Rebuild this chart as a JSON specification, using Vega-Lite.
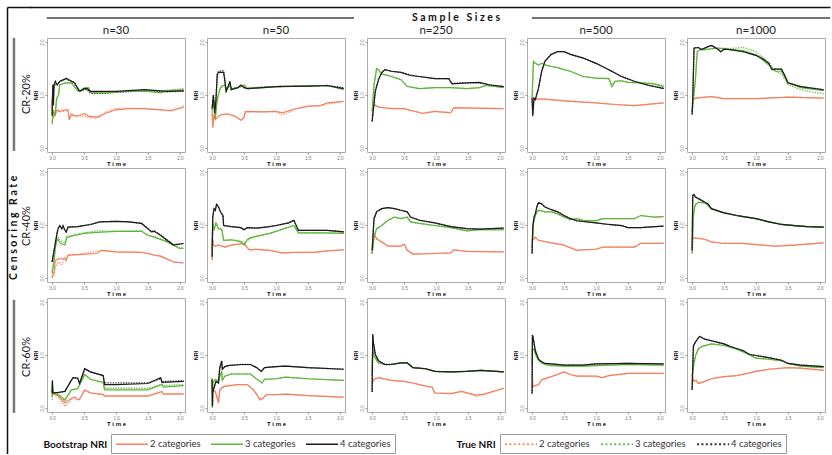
{
"$schema": "https://vega.github.io/schema/vega-lite/v6.json",
"padding": {"left": 7, "top": 7, "right": 0, "bottom": 0},
"background": "white",
"spacing": 0,
"resolve": {"scale": {"x": "independent", "y": "independent"}},
"config": {
  "view": {"stroke": "#ababab", "strokeWidth": 1},
  "font": "Liberation Sans",
  "legend": {"direction": "horizontal", "symbolType": "M-3.2,0H3.2", "symbolSize": 100, "symbolOffset": 11, "padding": 4, "strokeColor": "#9a9a9a", "fillColor": "white", "labelFont": "Lato", "labelFontSize": 9.5, "labelColor": "#333", "labelOffset": 12, "columnPadding": 7}
},
"data": {"values": [
{"r":20,"n":30,"k":2,"t":0,"b":0.94,"e":0.9},{"r":20,"n":30,"k":2,"t":0.01,"b":0.57,"e":0.6},{"r":20,"n":30,"k":2,"t":0.05,"b":0.63,"e":0.65},{"r":20,"n":30,"k":2,"t":0.08,"b":0.72,"e":0.7},{"r":20,"n":30,"k":2,"t":0.12,"b":0.69,"e":0.68},{"r":20,"n":30,"k":2,"t":0.2,"b":0.72,"e":0.7},{"r":20,"n":30,"k":2,"t":0.25,"b":0.72,"e":0.7},{"r":20,"n":30,"k":2,"t":0.27,"b":0.53,"e":0.55},{"r":20,"n":30,"k":2,"t":0.3,"b":0.64,"e":0.62},{"r":20,"n":30,"k":2,"t":0.37,"b":0.6,"e":0.6},{"r":20,"n":30,"k":2,"t":0.47,"b":0.63,"e":0.6},{"r":20,"n":30,"k":2,"t":0.51,"b":0.65,"e":0.6},{"r":20,"n":30,"k":2,"t":0.57,"b":0.6,"e":0.57},{"r":20,"n":30,"k":2,"t":0.7,"b":0.58,"e":0.56},{"r":20,"n":30,"k":2,"t":0.85,"b":0.66,"e":0.68},{"r":20,"n":30,"k":2,"t":1.0,"b":0.72,"e":0.74},{"r":20,"n":30,"k":2,"t":1.2,"b":0.74,"e":0.75},{"r":20,"n":30,"k":2,"t":1.45,"b":0.74,"e":0.74},{"r":20,"n":30,"k":2,"t":1.7,"b":0.72,"e":0.72},{"r":20,"n":30,"k":2,"t":1.85,"b":0.7,"e":0.71},{"r":20,"n":30,"k":2,"t":1.98,"b":0.74,"e":0.75},{"r":20,"n":30,"k":2,"t":2.06,"b":0.77,"e":0.8},
{"r":20,"n":30,"k":3,"t":0,"b":0.44,"e":0.5},{"r":20,"n":30,"k":3,"t":0.02,"b":0.69,"e":0.7},{"r":20,"n":30,"k":3,"t":0.05,"b":0.63,"e":0.7},{"r":20,"n":30,"k":3,"t":0.07,"b":0.94,"e":0.9},{"r":20,"n":30,"k":3,"t":0.1,"b":1.0,"e":1.0},{"r":20,"n":30,"k":3,"t":0.12,"b":1.19,"e":1.2},{"r":20,"n":30,"k":3,"t":0.2,"b":1.23,"e":1.22},{"r":20,"n":30,"k":3,"t":0.3,"b":1.23,"e":1.23},{"r":20,"n":30,"k":3,"t":0.4,"b":1.08,"e":1.1},{"r":20,"n":30,"k":3,"t":0.45,"b":1.08,"e":1.07},{"r":20,"n":30,"k":3,"t":0.51,"b":1.14,"e":1.12},{"r":20,"n":30,"k":3,"t":0.57,"b":1.14,"e":1.12},{"r":20,"n":30,"k":3,"t":0.6,"b":1.06,"e":1.04},{"r":20,"n":30,"k":3,"t":0.7,"b":1.04,"e":1.03},{"r":20,"n":30,"k":3,"t":1.0,"b":1.05,"e":1.06},{"r":20,"n":30,"k":3,"t":1.2,"b":1.08,"e":1.07},{"r":20,"n":30,"k":3,"t":1.5,"b":1.07,"e":1.08},{"r":20,"n":30,"k":3,"t":1.7,"b":1.04,"e":1.08},{"r":20,"n":30,"k":3,"t":1.8,"b":1.08,"e":1.09},{"r":20,"n":30,"k":3,"t":2.06,"b":1.1,"e":1.12},
{"r":20,"n":30,"k":4,"t":0,"b":0.6,"e":0.65},{"r":20,"n":30,"k":4,"t":0.01,"b":1.2,"e":1.1},{"r":20,"n":30,"k":4,"t":0.02,"b":0.8,"e":0.85},{"r":20,"n":30,"k":4,"t":0.03,"b":1.19,"e":1.15},{"r":20,"n":30,"k":4,"t":0.05,"b":1.26,"e":1.2},{"r":20,"n":30,"k":4,"t":0.08,"b":1.19,"e":1.2},{"r":20,"n":30,"k":4,"t":0.12,"b":1.26,"e":1.25},{"r":20,"n":30,"k":4,"t":0.2,"b":1.3,"e":1.3},{"r":20,"n":30,"k":4,"t":0.22,"b":1.32,"e":1.3},{"r":20,"n":30,"k":4,"t":0.35,"b":1.23,"e":1.24},{"r":20,"n":30,"k":4,"t":0.43,"b":1.07,"e":1.07},{"r":20,"n":30,"k":4,"t":0.5,"b":1.12,"e":1.1},{"r":20,"n":30,"k":4,"t":0.55,"b":1.12,"e":1.1},{"r":20,"n":30,"k":4,"t":0.6,"b":1.07,"e":1.03},{"r":20,"n":30,"k":4,"t":0.8,"b":1.07,"e":1.03},{"r":20,"n":30,"k":4,"t":1.0,"b":1.07,"e":1.05},{"r":20,"n":30,"k":4,"t":1.45,"b":1.1,"e":1.08},{"r":20,"n":30,"k":4,"t":1.8,"b":1.07,"e":1.06},{"r":20,"n":30,"k":4,"t":2.06,"b":1.08,"e":1.07},
{"r":20,"n":50,"k":2,"t":0,"b":0.69,"e":0.7},{"r":20,"n":50,"k":2,"t":0.01,"b":0.38,"e":0.45},{"r":20,"n":50,"k":2,"t":0.03,"b":0.63,"e":0.6},{"r":20,"n":50,"k":2,"t":0.05,"b":0.53,"e":0.55},{"r":20,"n":50,"k":2,"t":0.1,"b":0.6,"e":0.6},{"r":20,"n":50,"k":2,"t":0.15,"b":0.63,"e":0.63},{"r":20,"n":50,"k":2,"t":0.25,"b":0.64,"e":0.64},{"r":20,"n":50,"k":2,"t":0.35,"b":0.6,"e":0.6},{"r":20,"n":50,"k":2,"t":0.45,"b":0.52,"e":0.53},{"r":20,"n":50,"k":2,"t":0.5,"b":0.57,"e":0.57},{"r":20,"n":50,"k":2,"t":0.52,"b":0.69,"e":0.68},{"r":20,"n":50,"k":2,"t":0.8,"b":0.68,"e":0.68},{"r":20,"n":50,"k":2,"t":1.0,"b":0.69,"e":0.69},{"r":20,"n":50,"k":2,"t":1.1,"b":0.66,"e":0.62},{"r":20,"n":50,"k":2,"t":1.3,"b":0.74,"e":0.73},{"r":20,"n":50,"k":2,"t":1.5,"b":0.79,"e":0.78},{"r":20,"n":50,"k":2,"t":1.7,"b":0.8,"e":0.8},{"r":20,"n":50,"k":2,"t":1.8,"b":0.85,"e":0.83},{"r":20,"n":50,"k":2,"t":2.06,"b":0.88,"e":0.88},
{"r":20,"n":50,"k":3,"t":0,"b":0.7,"e":0.72},{"r":20,"n":50,"k":3,"t":0.03,"b":0.9,"e":0.9},{"r":20,"n":50,"k":3,"t":0.05,"b":0.55,"e":0.6},{"r":20,"n":50,"k":3,"t":0.08,"b":0.9,"e":0.95},{"r":20,"n":50,"k":3,"t":0.12,"b":1.1,"e":1.12},{"r":20,"n":50,"k":3,"t":0.15,"b":1.16,"e":1.17},{"r":20,"n":50,"k":3,"t":0.2,"b":1.19,"e":1.2},{"r":20,"n":50,"k":3,"t":0.22,"b":1.07,"e":1.1},{"r":20,"n":50,"k":3,"t":0.27,"b":1.19,"e":1.18},{"r":20,"n":50,"k":3,"t":0.3,"b":1.1,"e":1.12},{"r":20,"n":50,"k":3,"t":0.35,"b":1.12,"e":1.12},{"r":20,"n":50,"k":3,"t":0.45,"b":1.16,"e":1.15},{"r":20,"n":50,"k":3,"t":0.5,"b":1.19,"e":1.18},{"r":20,"n":50,"k":3,"t":0.55,"b":1.12,"e":1.12},{"r":20,"n":50,"k":3,"t":0.8,"b":1.14,"e":1.15},{"r":20,"n":50,"k":3,"t":1.0,"b":1.16,"e":1.16},{"r":20,"n":50,"k":3,"t":1.5,"b":1.17,"e":1.17},{"r":20,"n":50,"k":3,"t":1.8,"b":1.18,"e":1.18},{"r":20,"n":50,"k":3,"t":2.06,"b":1.1,"e":1.12},
{"r":20,"n":50,"k":4,"t":0,"b":0.75,"e":0.75},{"r":20,"n":50,"k":4,"t":0.02,"b":1.0,"e":1.0},{"r":20,"n":50,"k":4,"t":0.04,"b":0.65,"e":0.7},{"r":20,"n":50,"k":4,"t":0.06,"b":0.9,"e":0.9},{"r":20,"n":50,"k":4,"t":0.08,"b":1.38,"e":1.4},{"r":20,"n":50,"k":4,"t":0.1,"b":1.43,"e":1.45},{"r":20,"n":50,"k":4,"t":0.18,"b":1.43,"e":1.46},{"r":20,"n":50,"k":4,"t":0.2,"b":1.26,"e":1.3},{"r":20,"n":50,"k":4,"t":0.22,"b":1.07,"e":1.1},{"r":20,"n":50,"k":4,"t":0.25,"b":1.16,"e":1.15},{"r":20,"n":50,"k":4,"t":0.28,"b":1.26,"e":1.22},{"r":20,"n":50,"k":4,"t":0.3,"b":1.1,"e":1.12},{"r":20,"n":50,"k":4,"t":0.4,"b":1.14,"e":1.14},{"r":20,"n":50,"k":4,"t":0.45,"b":1.19,"e":1.18},{"r":20,"n":50,"k":4,"t":0.5,"b":1.14,"e":1.15},{"r":20,"n":50,"k":4,"t":0.55,"b":1.12,"e":1.13},{"r":20,"n":50,"k":4,"t":0.8,"b":1.14,"e":1.15},{"r":20,"n":50,"k":4,"t":1.0,"b":1.16,"e":1.16},{"r":20,"n":50,"k":4,"t":1.5,"b":1.17,"e":1.17},{"r":20,"n":50,"k":4,"t":1.8,"b":1.18,"e":1.18},{"r":20,"n":50,"k":4,"t":2.06,"b":1.12,"e":1.14},
{"r":20,"n":250,"k":2,"t":0,"b":0.6,"e":0.6},{"r":20,"n":250,"k":2,"t":0.03,"b":0.82,"e":0.82},{"r":20,"n":250,"k":2,"t":0.1,"b":0.77,"e":0.77},{"r":20,"n":250,"k":2,"t":0.3,"b":0.74,"e":0.75},{"r":20,"n":250,"k":2,"t":0.5,"b":0.74,"e":0.74},{"r":20,"n":250,"k":2,"t":0.79,"b":0.65,"e":0.66},{"r":20,"n":250,"k":2,"t":0.98,"b":0.69,"e":0.69},{"r":20,"n":250,"k":2,"t":1.23,"b":0.66,"e":0.67},{"r":20,"n":250,"k":2,"t":1.28,"b":0.76,"e":0.75},{"r":20,"n":250,"k":2,"t":1.6,"b":0.75,"e":0.75},{"r":20,"n":250,"k":2,"t":2.06,"b":0.74,"e":0.74},
{"r":20,"n":250,"k":3,"t":0,"b":0.69,"e":0.7},{"r":20,"n":250,"k":3,"t":0.03,"b":1.19,"e":1.2},{"r":20,"n":250,"k":3,"t":0.07,"b":1.5,"e":1.5},{"r":20,"n":250,"k":3,"t":0.1,"b":1.48,"e":1.47},{"r":20,"n":250,"k":3,"t":0.15,"b":1.4,"e":1.4},{"r":20,"n":250,"k":3,"t":0.3,"b":1.35,"e":1.36},{"r":20,"n":250,"k":3,"t":0.45,"b":1.29,"e":1.3},{"r":20,"n":250,"k":3,"t":0.55,"b":1.16,"e":1.17},{"r":20,"n":250,"k":3,"t":0.74,"b":1.12,"e":1.12},{"r":20,"n":250,"k":3,"t":0.98,"b":1.14,"e":1.14},{"r":20,"n":250,"k":3,"t":1.23,"b":1.14,"e":1.14},{"r":20,"n":250,"k":3,"t":1.48,"b":1.12,"e":1.12},{"r":20,"n":250,"k":3,"t":1.68,"b":1.14,"e":1.14},{"r":20,"n":250,"k":3,"t":1.78,"b":1.18,"e":1.18},{"r":20,"n":250,"k":3,"t":1.95,"b":1.16,"e":1.16},{"r":20,"n":250,"k":3,"t":2.06,"b":1.14,"e":1.14},
{"r":20,"n":250,"k":4,"t":0,"b":0.5,"e":0.5},{"r":20,"n":250,"k":4,"t":0.05,"b":1.07,"e":1.07},{"r":20,"n":250,"k":4,"t":0.1,"b":1.29,"e":1.3},{"r":20,"n":250,"k":4,"t":0.15,"b":1.42,"e":1.43},{"r":20,"n":250,"k":4,"t":0.2,"b":1.48,"e":1.48},{"r":20,"n":250,"k":4,"t":0.3,"b":1.45,"e":1.45},{"r":20,"n":250,"k":4,"t":0.45,"b":1.43,"e":1.43},{"r":20,"n":250,"k":4,"t":0.6,"b":1.37,"e":1.38},{"r":20,"n":250,"k":4,"t":0.74,"b":1.35,"e":1.35},{"r":20,"n":250,"k":4,"t":0.98,"b":1.31,"e":1.31},{"r":20,"n":250,"k":4,"t":1.2,"b":1.31,"e":1.31},{"r":20,"n":250,"k":4,"t":1.25,"b":1.21,"e":1.22},{"r":20,"n":250,"k":4,"t":1.48,"b":1.23,"e":1.23},{"r":20,"n":250,"k":4,"t":1.68,"b":1.24,"e":1.23},{"r":20,"n":250,"k":4,"t":1.85,"b":1.19,"e":1.19},{"r":20,"n":250,"k":4,"t":2.06,"b":1.16,"e":1.16},
{"r":20,"n":500,"k":2,"t":0,"b":0.85,"e":0.85},{"r":20,"n":500,"k":2,"t":0.02,"b":0.94,"e":0.94},{"r":20,"n":500,"k":2,"t":0.05,"b":0.92,"e":0.92},{"r":20,"n":500,"k":2,"t":0.2,"b":0.92,"e":0.92},{"r":20,"n":500,"k":2,"t":0.5,"b":0.89,"e":0.89},{"r":20,"n":500,"k":2,"t":1.0,"b":0.85,"e":0.85},{"r":20,"n":500,"k":2,"t":1.3,"b":0.82,"e":0.82},{"r":20,"n":500,"k":2,"t":1.6,"b":0.8,"e":0.8},{"r":20,"n":500,"k":2,"t":2.06,"b":0.85,"e":0.85},
{"r":20,"n":500,"k":3,"t":0,"b":0.94,"e":0.94},{"r":20,"n":500,"k":3,"t":0.02,"b":1.64,"e":1.62},{"r":20,"n":500,"k":3,"t":0.05,"b":1.6,"e":1.6},{"r":20,"n":500,"k":3,"t":0.1,"b":1.57,"e":1.57},{"r":20,"n":500,"k":3,"t":0.15,"b":1.6,"e":1.6},{"r":20,"n":500,"k":3,"t":0.2,"b":1.57,"e":1.57},{"r":20,"n":500,"k":3,"t":0.3,"b":1.54,"e":1.54},{"r":20,"n":500,"k":3,"t":0.4,"b":1.52,"e":1.52},{"r":20,"n":500,"k":3,"t":0.5,"b":1.48,"e":1.48},{"r":20,"n":500,"k":3,"t":0.6,"b":1.45,"e":1.45},{"r":20,"n":500,"k":3,"t":0.8,"b":1.35,"e":1.35},{"r":20,"n":500,"k":3,"t":1.0,"b":1.32,"e":1.32},{"r":20,"n":500,"k":3,"t":1.2,"b":1.31,"e":1.31},{"r":20,"n":500,"k":3,"t":1.25,"b":1.16,"e":1.2},{"r":20,"n":500,"k":3,"t":1.3,"b":1.26,"e":1.26},{"r":20,"n":500,"k":3,"t":1.4,"b":1.27,"e":1.27},{"r":20,"n":500,"k":3,"t":1.5,"b":1.24,"e":1.24},{"r":20,"n":500,"k":3,"t":1.7,"b":1.23,"e":1.23},{"r":20,"n":500,"k":3,"t":1.9,"b":1.21,"e":1.22},{"r":20,"n":500,"k":3,"t":2.06,"b":1.16,"e":1.18},
{"r":20,"n":500,"k":4,"t":0,"b":0.94,"e":0.94},{"r":20,"n":500,"k":4,"t":0.01,"b":0.6,"e":0.65},{"r":20,"n":500,"k":4,"t":0.03,"b":0.94,"e":0.94},{"r":20,"n":500,"k":4,"t":0.05,"b":0.91,"e":0.91},{"r":20,"n":500,"k":4,"t":0.1,"b":1.13,"e":1.13},{"r":20,"n":500,"k":4,"t":0.15,"b":1.45,"e":1.45},{"r":20,"n":500,"k":4,"t":0.2,"b":1.64,"e":1.64},{"r":20,"n":500,"k":4,"t":0.3,"b":1.77,"e":1.77},{"r":20,"n":500,"k":4,"t":0.4,"b":1.82,"e":1.82},{"r":20,"n":500,"k":4,"t":0.5,"b":1.82,"e":1.82},{"r":20,"n":500,"k":4,"t":0.6,"b":1.77,"e":1.77},{"r":20,"n":500,"k":4,"t":0.8,"b":1.7,"e":1.7},{"r":20,"n":500,"k":4,"t":1.0,"b":1.6,"e":1.6},{"r":20,"n":500,"k":4,"t":1.2,"b":1.48,"e":1.48},{"r":20,"n":500,"k":4,"t":1.4,"b":1.35,"e":1.35},{"r":20,"n":500,"k":4,"t":1.6,"b":1.26,"e":1.26},{"r":20,"n":500,"k":4,"t":1.8,"b":1.19,"e":1.19},{"r":20,"n":500,"k":4,"t":2.06,"b":1.12,"e":1.13},
{"r":20,"n":1000,"k":2,"t":0,"b":0.88,"e":0.88},{"r":20,"n":1000,"k":2,"t":0.05,"b":0.94,"e":0.94},{"r":20,"n":1000,"k":2,"t":0.3,"b":0.97,"e":0.97},{"r":20,"n":1000,"k":2,"t":0.5,"b":0.93,"e":0.93},{"r":20,"n":1000,"k":2,"t":1.0,"b":0.93,"e":0.93},{"r":20,"n":1000,"k":2,"t":1.5,"b":0.96,"e":0.96},{"r":20,"n":1000,"k":2,"t":2.06,"b":0.94,"e":0.94},
{"r":20,"n":1000,"k":3,"t":0,"b":0.69,"e":0.69},{"r":20,"n":1000,"k":3,"t":0.05,"b":1.26,"e":1.26},{"r":20,"n":1000,"k":3,"t":0.08,"b":1.82,"e":1.82},{"r":20,"n":1000,"k":3,"t":0.12,"b":1.86,"e":1.86},{"r":20,"n":1000,"k":3,"t":0.2,"b":1.86,"e":1.86},{"r":20,"n":1000,"k":3,"t":0.4,"b":1.89,"e":1.89},{"r":20,"n":1000,"k":3,"t":0.6,"b":1.86,"e":1.88},{"r":20,"n":1000,"k":3,"t":0.8,"b":1.84,"e":1.9},{"r":20,"n":1000,"k":3,"t":1.0,"b":1.76,"e":1.82},{"r":20,"n":1000,"k":3,"t":1.2,"b":1.57,"e":1.62},{"r":20,"n":1000,"k":3,"t":1.3,"b":1.45,"e":1.45},{"r":20,"n":1000,"k":3,"t":1.4,"b":1.45,"e":1.4},{"r":20,"n":1000,"k":3,"t":1.5,"b":1.23,"e":1.2},{"r":20,"n":1000,"k":3,"t":1.7,"b":1.14,"e":1.1},{"r":20,"n":1000,"k":3,"t":2.06,"b":1.08,"e":1.02},
{"r":20,"n":1000,"k":4,"t":0,"b":0.63,"e":0.63},{"r":20,"n":1000,"k":4,"t":0.01,"b":0.94,"e":0.94},{"r":20,"n":1000,"k":4,"t":0.03,"b":1.89,"e":1.89},{"r":20,"n":1000,"k":4,"t":0.1,"b":1.9,"e":1.9},{"r":20,"n":1000,"k":4,"t":0.15,"b":1.86,"e":1.86},{"r":20,"n":1000,"k":4,"t":0.2,"b":1.89,"e":1.89},{"r":20,"n":1000,"k":4,"t":0.3,"b":1.94,"e":1.94},{"r":20,"n":1000,"k":4,"t":0.4,"b":1.87,"e":1.87},{"r":20,"n":1000,"k":4,"t":0.45,"b":1.82,"e":1.82},{"r":20,"n":1000,"k":4,"t":0.5,"b":1.87,"e":1.87},{"r":20,"n":1000,"k":4,"t":0.6,"b":1.86,"e":1.86},{"r":20,"n":1000,"k":4,"t":0.8,"b":1.82,"e":1.82},{"r":20,"n":1000,"k":4,"t":1.0,"b":1.75,"e":1.75},{"r":20,"n":1000,"k":4,"t":1.1,"b":1.69,"e":1.69},{"r":20,"n":1000,"k":4,"t":1.2,"b":1.6,"e":1.6},{"r":20,"n":1000,"k":4,"t":1.25,"b":1.48,"e":1.48},{"r":20,"n":1000,"k":4,"t":1.3,"b":1.49,"e":1.49},{"r":20,"n":1000,"k":4,"t":1.4,"b":1.49,"e":1.49},{"r":20,"n":1000,"k":4,"t":1.45,"b":1.37,"e":1.37},{"r":20,"n":1000,"k":4,"t":1.5,"b":1.23,"e":1.23},{"r":20,"n":1000,"k":4,"t":1.7,"b":1.16,"e":1.16},{"r":20,"n":1000,"k":4,"t":2.06,"b":1.1,"e":1.1},
{"r":40,"n":30,"k":2,"t":0,"b":0.0,"e":0.0},{"r":40,"n":30,"k":2,"t":0.03,"b":0.11,"e":0.05},{"r":40,"n":30,"k":2,"t":0.05,"b":0.33,"e":0.2},{"r":40,"n":30,"k":2,"t":0.1,"b":0.36,"e":0.3},{"r":40,"n":30,"k":2,"t":0.15,"b":0.36,"e":0.25},{"r":40,"n":30,"k":2,"t":0.2,"b":0.36,"e":0.38},{"r":40,"n":30,"k":2,"t":0.22,"b":0.33,"e":0.33},{"r":40,"n":30,"k":2,"t":0.25,"b":0.43,"e":0.43},{"r":40,"n":30,"k":2,"t":0.4,"b":0.44,"e":0.44},{"r":40,"n":30,"k":2,"t":0.7,"b":0.46,"e":0.5},{"r":40,"n":30,"k":2,"t":0.77,"b":0.52,"e":0.52},{"r":40,"n":30,"k":2,"t":1.0,"b":0.49,"e":0.49},{"r":40,"n":30,"k":2,"t":1.4,"b":0.48,"e":0.48},{"r":40,"n":30,"k":2,"t":1.5,"b":0.46,"e":0.46},{"r":40,"n":30,"k":2,"t":1.6,"b":0.43,"e":0.43},{"r":40,"n":30,"k":2,"t":1.7,"b":0.41,"e":0.41},{"r":40,"n":30,"k":2,"t":1.9,"b":0.3,"e":0.3},{"r":40,"n":30,"k":2,"t":2.06,"b":0.28,"e":0.28},
{"r":40,"n":30,"k":3,"t":0,"b":0.08,"e":0.12},{"r":40,"n":30,"k":3,"t":0.03,"b":0.33,"e":0.35},{"r":40,"n":30,"k":3,"t":0.05,"b":0.58,"e":0.55},{"r":40,"n":30,"k":3,"t":0.08,"b":0.74,"e":0.74},{"r":40,"n":30,"k":3,"t":0.1,"b":0.71,"e":0.76},{"r":40,"n":30,"k":3,"t":0.13,"b":0.65,"e":0.7},{"r":40,"n":30,"k":3,"t":0.2,"b":0.62,"e":0.66},{"r":40,"n":30,"k":3,"t":0.23,"b":0.76,"e":0.78},{"r":40,"n":30,"k":3,"t":0.3,"b":0.79,"e":0.8},{"r":40,"n":30,"k":3,"t":0.5,"b":0.84,"e":0.85},{"r":40,"n":30,"k":3,"t":0.7,"b":0.86,"e":0.89},{"r":40,"n":30,"k":3,"t":1.0,"b":0.88,"e":0.88},{"r":40,"n":30,"k":3,"t":1.4,"b":0.88,"e":0.89},{"r":40,"n":30,"k":3,"t":1.5,"b":0.8,"e":0.81},{"r":40,"n":30,"k":3,"t":1.6,"b":0.77,"e":0.78},{"r":40,"n":30,"k":3,"t":1.8,"b":0.68,"e":0.69},{"r":40,"n":30,"k":3,"t":2.0,"b":0.55,"e":0.57},{"r":40,"n":30,"k":3,"t":2.06,"b":0.56,"e":0.57},
{"r":40,"n":30,"k":4,"t":0,"b":0.3,"e":0.3},{"r":40,"n":30,"k":4,"t":0.05,"b":0.65,"e":0.65},{"r":40,"n":30,"k":4,"t":0.08,"b":0.87,"e":0.85},{"r":40,"n":30,"k":4,"t":0.1,"b":0.95,"e":0.95},{"r":40,"n":30,"k":4,"t":0.12,"b":0.99,"e":0.97},{"r":40,"n":30,"k":4,"t":0.15,"b":0.93,"e":0.93},{"r":40,"n":30,"k":4,"t":0.17,"b":0.99,"e":0.97},{"r":40,"n":30,"k":4,"t":0.2,"b":0.9,"e":0.9},{"r":40,"n":30,"k":4,"t":0.22,"b":0.87,"e":0.87},{"r":40,"n":30,"k":4,"t":0.25,"b":0.96,"e":0.96},{"r":40,"n":30,"k":4,"t":0.4,"b":0.97,"e":0.97},{"r":40,"n":30,"k":4,"t":0.6,"b":1.01,"e":1.01},{"r":40,"n":30,"k":4,"t":0.75,"b":1.06,"e":1.06},{"r":40,"n":30,"k":4,"t":1.0,"b":1.07,"e":1.07},{"r":40,"n":30,"k":4,"t":1.2,"b":1.06,"e":1.06},{"r":40,"n":30,"k":4,"t":1.4,"b":1.03,"e":1.03},{"r":40,"n":30,"k":4,"t":1.5,"b":0.93,"e":0.93},{"r":40,"n":30,"k":4,"t":1.55,"b":0.87,"e":0.88},{"r":40,"n":30,"k":4,"t":1.6,"b":0.88,"e":0.89},{"r":40,"n":30,"k":4,"t":1.7,"b":0.8,"e":0.81},{"r":40,"n":30,"k":4,"t":1.9,"b":0.62,"e":0.63},{"r":40,"n":30,"k":4,"t":2.0,"b":0.64,"e":0.64},{"r":40,"n":30,"k":4,"t":2.06,"b":0.65,"e":0.65},
{"r":40,"n":50,"k":2,"t":0,"b":0.33,"e":0.35},{"r":40,"n":50,"k":2,"t":0.01,"b":0.74,"e":0.72},{"r":40,"n":50,"k":2,"t":0.02,"b":0.62,"e":0.62},{"r":40,"n":50,"k":2,"t":0.05,"b":0.6,"e":0.6},{"r":40,"n":50,"k":2,"t":0.1,"b":0.62,"e":0.62},{"r":40,"n":50,"k":2,"t":0.2,"b":0.58,"e":0.58},{"r":40,"n":50,"k":2,"t":0.3,"b":0.62,"e":0.62},{"r":40,"n":50,"k":2,"t":0.5,"b":0.65,"e":0.65},{"r":40,"n":50,"k":2,"t":0.58,"b":0.53,"e":0.53},{"r":40,"n":50,"k":2,"t":0.7,"b":0.54,"e":0.54},{"r":40,"n":50,"k":2,"t":0.9,"b":0.52,"e":0.52},{"r":40,"n":50,"k":2,"t":1.1,"b":0.47,"e":0.47},{"r":40,"n":50,"k":2,"t":1.3,"b":0.48,"e":0.48},{"r":40,"n":50,"k":2,"t":1.6,"b":0.48,"e":0.48},{"r":40,"n":50,"k":2,"t":1.8,"b":0.51,"e":0.51},{"r":40,"n":50,"k":2,"t":2.06,"b":0.53,"e":0.53},
{"r":40,"n":50,"k":3,"t":0,"b":0.52,"e":0.52},{"r":40,"n":50,"k":3,"t":0.01,"b":1.03,"e":1.03},{"r":40,"n":50,"k":3,"t":0.03,"b":0.9,"e":0.9},{"r":40,"n":50,"k":3,"t":0.06,"b":1.04,"e":1.04},{"r":40,"n":50,"k":3,"t":0.1,"b":0.93,"e":0.93},{"r":40,"n":50,"k":3,"t":0.15,"b":0.92,"e":0.92},{"r":40,"n":50,"k":3,"t":0.18,"b":0.71,"e":0.71},{"r":40,"n":50,"k":3,"t":0.3,"b":0.72,"e":0.72},{"r":40,"n":50,"k":3,"t":0.45,"b":0.68,"e":0.7},{"r":40,"n":50,"k":3,"t":0.5,"b":0.62,"e":0.66},{"r":40,"n":50,"k":3,"t":0.55,"b":0.72,"e":0.7},{"r":40,"n":50,"k":3,"t":0.6,"b":0.76,"e":0.74},{"r":40,"n":50,"k":3,"t":0.7,"b":0.79,"e":0.78},{"r":40,"n":50,"k":3,"t":0.9,"b":0.84,"e":0.84},{"r":40,"n":50,"k":3,"t":1.0,"b":0.88,"e":0.88},{"r":40,"n":50,"k":3,"t":1.28,"b":0.99,"e":0.99},{"r":40,"n":50,"k":3,"t":1.35,"b":0.85,"e":0.85},{"r":40,"n":50,"k":3,"t":1.8,"b":0.85,"e":0.85},{"r":40,"n":50,"k":3,"t":2.06,"b":0.84,"e":0.84},
{"r":40,"n":50,"k":4,"t":0,"b":0.4,"e":0.4},{"r":40,"n":50,"k":4,"t":0.01,"b":1.15,"e":1.15},{"r":40,"n":50,"k":4,"t":0.03,"b":1.31,"e":1.31},{"r":40,"n":50,"k":4,"t":0.05,"b":1.28,"e":1.28},{"r":40,"n":50,"k":4,"t":0.07,"b":1.39,"e":1.4},{"r":40,"n":50,"k":4,"t":0.1,"b":1.34,"e":1.35},{"r":40,"n":50,"k":4,"t":0.13,"b":1.25,"e":1.25},{"r":40,"n":50,"k":4,"t":0.17,"b":1.18,"e":1.18},{"r":40,"n":50,"k":4,"t":0.18,"b":0.99,"e":0.99},{"r":40,"n":50,"k":4,"t":0.3,"b":0.97,"e":0.97},{"r":40,"n":50,"k":4,"t":0.45,"b":0.95,"e":0.95},{"r":40,"n":50,"k":4,"t":0.5,"b":0.91,"e":0.91},{"r":40,"n":50,"k":4,"t":0.55,"b":0.95,"e":0.95},{"r":40,"n":50,"k":4,"t":0.7,"b":0.94,"e":0.94},{"r":40,"n":50,"k":4,"t":0.9,"b":0.97,"e":0.97},{"r":40,"n":50,"k":4,"t":1.0,"b":0.99,"e":0.99},{"r":40,"n":50,"k":4,"t":1.2,"b":1.04,"e":1.04},{"r":40,"n":50,"k":4,"t":1.28,"b":1.09,"e":1.09},{"r":40,"n":50,"k":4,"t":1.35,"b":0.9,"e":0.9},{"r":40,"n":50,"k":4,"t":1.8,"b":0.9,"e":0.9},{"r":40,"n":50,"k":4,"t":2.06,"b":0.87,"e":0.87},
{"r":40,"n":250,"k":2,"t":0,"b":0.46,"e":0.46},{"r":40,"n":250,"k":2,"t":0.03,"b":0.84,"e":0.84},{"r":40,"n":250,"k":2,"t":0.07,"b":0.74,"e":0.74},{"r":40,"n":250,"k":2,"t":0.15,"b":0.68,"e":0.68},{"r":40,"n":250,"k":2,"t":0.25,"b":0.6,"e":0.6},{"r":40,"n":250,"k":2,"t":0.45,"b":0.6,"e":0.6},{"r":40,"n":250,"k":2,"t":0.5,"b":0.64,"e":0.64},{"r":40,"n":250,"k":2,"t":0.55,"b":0.52,"e":0.52},{"r":40,"n":250,"k":2,"t":0.64,"b":0.45,"e":0.45},{"r":40,"n":250,"k":2,"t":0.98,"b":0.46,"e":0.46},{"r":40,"n":250,"k":2,"t":1.23,"b":0.47,"e":0.47},{"r":40,"n":250,"k":2,"t":1.28,"b":0.53,"e":0.53},{"r":40,"n":250,"k":2,"t":1.48,"b":0.5,"e":0.5},{"r":40,"n":250,"k":2,"t":2.06,"b":0.49,"e":0.49},
{"r":40,"n":250,"k":3,"t":0,"b":0.46,"e":0.46},{"r":40,"n":250,"k":3,"t":0.03,"b":0.77,"e":0.77},{"r":40,"n":250,"k":3,"t":0.07,"b":0.93,"e":0.93},{"r":40,"n":250,"k":3,"t":0.15,"b":0.99,"e":0.99},{"r":40,"n":250,"k":3,"t":0.25,"b":1.09,"e":1.09},{"r":40,"n":250,"k":3,"t":0.35,"b":1.15,"e":1.15},{"r":40,"n":250,"k":3,"t":0.45,"b":1.12,"e":1.12},{"r":40,"n":250,"k":3,"t":0.55,"b":1.15,"e":1.15},{"r":40,"n":250,"k":3,"t":0.6,"b":1.06,"e":1.06},{"r":40,"n":250,"k":3,"t":0.74,"b":1.03,"e":1.03},{"r":40,"n":250,"k":3,"t":0.98,"b":0.99,"e":0.99},{"r":40,"n":250,"k":3,"t":1.23,"b":0.95,"e":0.95},{"r":40,"n":250,"k":3,"t":1.48,"b":0.89,"e":0.89},{"r":40,"n":250,"k":3,"t":1.7,"b":0.91,"e":0.91},{"r":40,"n":250,"k":3,"t":2.06,"b":0.91,"e":0.91},
{"r":40,"n":250,"k":4,"t":0,"b":0.52,"e":0.52},{"r":40,"n":250,"k":4,"t":0.03,"b":1.12,"e":1.12},{"r":40,"n":250,"k":4,"t":0.07,"b":1.25,"e":1.25},{"r":40,"n":250,"k":4,"t":0.15,"b":1.31,"e":1.31},{"r":40,"n":250,"k":4,"t":0.25,"b":1.33,"e":1.33},{"r":40,"n":250,"k":4,"t":0.35,"b":1.31,"e":1.31},{"r":40,"n":250,"k":4,"t":0.45,"b":1.28,"e":1.28},{"r":40,"n":250,"k":4,"t":0.55,"b":1.25,"e":1.25},{"r":40,"n":250,"k":4,"t":0.6,"b":1.15,"e":1.15},{"r":40,"n":250,"k":4,"t":0.74,"b":1.09,"e":1.09},{"r":40,"n":250,"k":4,"t":0.98,"b":1.04,"e":1.04},{"r":40,"n":250,"k":4,"t":1.23,"b":0.97,"e":0.97},{"r":40,"n":250,"k":4,"t":1.48,"b":0.93,"e":0.93},{"r":40,"n":250,"k":4,"t":1.7,"b":0.92,"e":0.92},{"r":40,"n":250,"k":4,"t":1.85,"b":0.93,"e":0.93},{"r":40,"n":250,"k":4,"t":2.06,"b":0.94,"e":0.94},
{"r":40,"n":500,"k":2,"t":0,"b":0.71,"e":0.71},{"r":40,"n":500,"k":2,"t":0.03,"b":0.74,"e":0.74},{"r":40,"n":500,"k":2,"t":0.05,"b":0.77,"e":0.77},{"r":40,"n":500,"k":2,"t":0.1,"b":0.71,"e":0.71},{"r":40,"n":500,"k":2,"t":0.3,"b":0.66,"e":0.66},{"r":40,"n":500,"k":2,"t":0.5,"b":0.62,"e":0.62},{"r":40,"n":500,"k":2,"t":0.6,"b":0.57,"e":0.57},{"r":40,"n":500,"k":2,"t":0.7,"b":0.52,"e":0.52},{"r":40,"n":500,"k":2,"t":0.8,"b":0.53,"e":0.53},{"r":40,"n":500,"k":2,"t":1.0,"b":0.54,"e":0.54},{"r":40,"n":500,"k":2,"t":1.1,"b":0.58,"e":0.58},{"r":40,"n":500,"k":2,"t":1.6,"b":0.58,"e":0.58},{"r":40,"n":500,"k":2,"t":1.7,"b":0.65,"e":0.65},{"r":40,"n":500,"k":2,"t":2.06,"b":0.65,"e":0.65},
{"r":40,"n":500,"k":3,"t":0,"b":0.58,"e":0.58},{"r":40,"n":500,"k":3,"t":0.02,"b":1.03,"e":1.03},{"r":40,"n":500,"k":3,"t":0.05,"b":1.18,"e":1.18},{"r":40,"n":500,"k":3,"t":0.08,"b":1.25,"e":1.25},{"r":40,"n":500,"k":3,"t":0.1,"b":1.28,"e":1.28},{"r":40,"n":500,"k":3,"t":0.2,"b":1.25,"e":1.25},{"r":40,"n":500,"k":3,"t":0.3,"b":1.25,"e":1.25},{"r":40,"n":500,"k":3,"t":0.4,"b":1.21,"e":1.21},{"r":40,"n":500,"k":3,"t":0.5,"b":1.15,"e":1.15},{"r":40,"n":500,"k":3,"t":0.6,"b":1.1,"e":1.1},{"r":40,"n":500,"k":3,"t":0.7,"b":1.12,"e":1.12},{"r":40,"n":500,"k":3,"t":0.8,"b":1.09,"e":1.09},{"r":40,"n":500,"k":3,"t":1.0,"b":1.08,"e":1.08},{"r":40,"n":500,"k":3,"t":1.1,"b":1.12,"e":1.12},{"r":40,"n":500,"k":3,"t":1.6,"b":1.12,"e":1.12},{"r":40,"n":500,"k":3,"t":1.7,"b":1.18,"e":1.18},{"r":40,"n":500,"k":3,"t":1.9,"b":1.15,"e":1.15},{"r":40,"n":500,"k":3,"t":2.06,"b":1.16,"e":1.16},
{"r":40,"n":500,"k":4,"t":0,"b":0.46,"e":0.46},{"r":40,"n":500,"k":4,"t":0.01,"b":0.96,"e":0.96},{"r":40,"n":500,"k":4,"t":0.03,"b":1.15,"e":1.15},{"r":40,"n":500,"k":4,"t":0.05,"b":1.21,"e":1.21},{"r":40,"n":500,"k":4,"t":0.08,"b":1.37,"e":1.37},{"r":40,"n":500,"k":4,"t":0.1,"b":1.42,"e":1.42},{"r":40,"n":500,"k":4,"t":0.15,"b":1.4,"e":1.4},{"r":40,"n":500,"k":4,"t":0.2,"b":1.34,"e":1.34},{"r":40,"n":500,"k":4,"t":0.3,"b":1.29,"e":1.29},{"r":40,"n":500,"k":4,"t":0.4,"b":1.25,"e":1.25},{"r":40,"n":500,"k":4,"t":0.5,"b":1.18,"e":1.18},{"r":40,"n":500,"k":4,"t":0.6,"b":1.12,"e":1.12},{"r":40,"n":500,"k":4,"t":0.7,"b":1.08,"e":1.08},{"r":40,"n":500,"k":4,"t":1.0,"b":1.04,"e":1.04},{"r":40,"n":500,"k":4,"t":1.2,"b":1.01,"e":1.01},{"r":40,"n":500,"k":4,"t":1.4,"b":0.99,"e":0.99},{"r":40,"n":500,"k":4,"t":1.5,"b":0.95,"e":0.95},{"r":40,"n":500,"k":4,"t":1.7,"b":0.95,"e":0.95},{"r":40,"n":500,"k":4,"t":1.8,"b":0.96,"e":0.96},{"r":40,"n":500,"k":4,"t":2.06,"b":0.98,"e":0.98},
{"r":40,"n":1000,"k":2,"t":0,"b":0.71,"e":0.71},{"r":40,"n":1000,"k":2,"t":0.01,"b":0.76,"e":0.76},{"r":40,"n":1000,"k":2,"t":0.2,"b":0.73,"e":0.73},{"r":40,"n":1000,"k":2,"t":0.3,"b":0.68,"e":0.68},{"r":40,"n":1000,"k":2,"t":0.5,"b":0.65,"e":0.65},{"r":40,"n":1000,"k":2,"t":0.8,"b":0.65,"e":0.65},{"r":40,"n":1000,"k":2,"t":1.0,"b":0.63,"e":0.63},{"r":40,"n":1000,"k":2,"t":1.3,"b":0.6,"e":0.6},{"r":40,"n":1000,"k":2,"t":1.6,"b":0.62,"e":0.62},{"r":40,"n":1000,"k":2,"t":2.06,"b":0.66,"e":0.66},
{"r":40,"n":1000,"k":3,"t":0,"b":0.46,"e":0.46},{"r":40,"n":1000,"k":3,"t":0.02,"b":1.15,"e":1.15},{"r":40,"n":1000,"k":3,"t":0.04,"b":1.34,"e":1.34},{"r":40,"n":1000,"k":3,"t":0.06,"b":1.4,"e":1.4},{"r":40,"n":1000,"k":3,"t":0.1,"b":1.43,"e":1.43},{"r":40,"n":1000,"k":3,"t":0.2,"b":1.42,"e":1.42},{"r":40,"n":1000,"k":3,"t":0.3,"b":1.31,"e":1.31},{"r":40,"n":1000,"k":3,"t":0.5,"b":1.23,"e":1.23},{"r":40,"n":1000,"k":3,"t":0.7,"b":1.18,"e":1.18},{"r":40,"n":1000,"k":3,"t":0.8,"b":1.16,"e":1.16},{"r":40,"n":1000,"k":3,"t":1.0,"b":1.12,"e":1.12},{"r":40,"n":1000,"k":3,"t":1.2,"b":1.06,"e":1.06},{"r":40,"n":1000,"k":3,"t":1.4,"b":1.01,"e":1.01},{"r":40,"n":1000,"k":3,"t":1.6,"b":0.99,"e":0.99},{"r":40,"n":1000,"k":3,"t":1.8,"b":0.97,"e":0.97},{"r":40,"n":1000,"k":3,"t":2.06,"b":0.96,"e":0.96},
{"r":40,"n":1000,"k":4,"t":0,"b":0.52,"e":0.52},{"r":40,"n":1000,"k":4,"t":0.01,"b":1.56,"e":1.56},{"r":40,"n":1000,"k":4,"t":0.03,"b":1.58,"e":1.58},{"r":40,"n":1000,"k":4,"t":0.05,"b":1.53,"e":1.53},{"r":40,"n":1000,"k":4,"t":0.1,"b":1.5,"e":1.5},{"r":40,"n":1000,"k":4,"t":0.2,"b":1.43,"e":1.43},{"r":40,"n":1000,"k":4,"t":0.25,"b":1.4,"e":1.4},{"r":40,"n":1000,"k":4,"t":0.3,"b":1.31,"e":1.31},{"r":40,"n":1000,"k":4,"t":0.5,"b":1.23,"e":1.23},{"r":40,"n":1000,"k":4,"t":0.7,"b":1.18,"e":1.18},{"r":40,"n":1000,"k":4,"t":0.8,"b":1.16,"e":1.16},{"r":40,"n":1000,"k":4,"t":1.0,"b":1.12,"e":1.12},{"r":40,"n":1000,"k":4,"t":1.2,"b":1.06,"e":1.06},{"r":40,"n":1000,"k":4,"t":1.4,"b":1.01,"e":1.01},{"r":40,"n":1000,"k":4,"t":1.6,"b":0.99,"e":0.99},{"r":40,"n":1000,"k":4,"t":1.8,"b":0.97,"e":0.97},{"r":40,"n":1000,"k":4,"t":2.06,"b":0.96,"e":0.96},
{"r":60,"n":30,"k":2,"t":0,"b":0.25,"e":0.2},{"r":60,"n":30,"k":2,"t":0.02,"b":0.28,"e":0.25},{"r":60,"n":30,"k":2,"t":0.1,"b":0.22,"e":0.2},{"r":60,"n":30,"k":2,"t":0.2,"b":0.09,"e":0.03},{"r":60,"n":30,"k":2,"t":0.3,"b":0.18,"e":0.15},{"r":60,"n":30,"k":2,"t":0.35,"b":0.2,"e":0.2},{"r":60,"n":30,"k":2,"t":0.4,"b":0.15,"e":0.16},{"r":60,"n":30,"k":2,"t":0.43,"b":0.16,"e":0.17},{"r":60,"n":30,"k":2,"t":0.51,"b":0.34,"e":0.33},{"r":60,"n":30,"k":2,"t":0.6,"b":0.28,"e":0.28},{"r":60,"n":30,"k":2,"t":0.8,"b":0.25,"e":0.26},{"r":60,"n":30,"k":2,"t":0.82,"b":0.22,"e":0.23},{"r":60,"n":30,"k":2,"t":1.0,"b":0.22,"e":0.23},{"r":60,"n":30,"k":2,"t":1.5,"b":0.22,"e":0.23},{"r":60,"n":30,"k":2,"t":1.72,"b":0.31,"e":0.3},{"r":60,"n":30,"k":2,"t":1.74,"b":0.26,"e":0.27},{"r":60,"n":30,"k":2,"t":2.06,"b":0.26,"e":0.27},
{"r":60,"n":30,"k":3,"t":0,"b":0.22,"e":0.15},{"r":60,"n":30,"k":3,"t":0.005,"b":0.44,"e":0.4},{"r":60,"n":30,"k":3,"t":0.02,"b":0.28,"e":0.28},{"r":60,"n":30,"k":3,"t":0.1,"b":0.25,"e":0.25},{"r":60,"n":30,"k":3,"t":0.2,"b":0.15,"e":0.13},{"r":60,"n":30,"k":3,"t":0.25,"b":0.24,"e":0.24},{"r":60,"n":30,"k":3,"t":0.3,"b":0.34,"e":0.34},{"r":60,"n":30,"k":3,"t":0.4,"b":0.36,"e":0.36},{"r":60,"n":30,"k":3,"t":0.51,"b":0.63,"e":0.63},{"r":60,"n":30,"k":3,"t":0.6,"b":0.54,"e":0.54},{"r":60,"n":30,"k":3,"t":0.8,"b":0.48,"e":0.48},{"r":60,"n":30,"k":3,"t":0.82,"b":0.34,"e":0.37},{"r":60,"n":30,"k":3,"t":1.0,"b":0.34,"e":0.37},{"r":60,"n":30,"k":3,"t":1.5,"b":0.34,"e":0.37},{"r":60,"n":30,"k":3,"t":1.72,"b":0.44,"e":0.45},{"r":60,"n":30,"k":3,"t":1.74,"b":0.39,"e":0.42},{"r":60,"n":30,"k":3,"t":2.06,"b":0.42,"e":0.44},
{"r":60,"n":30,"k":4,"t":0,"b":0.28,"e":0.3},{"r":60,"n":30,"k":4,"t":0.005,"b":0.52,"e":0.5},{"r":60,"n":30,"k":4,"t":0.01,"b":0.28,"e":0.28},{"r":60,"n":30,"k":4,"t":0.1,"b":0.29,"e":0.29},{"r":60,"n":30,"k":4,"t":0.2,"b":0.31,"e":0.31},{"r":60,"n":30,"k":4,"t":0.3,"b":0.52,"e":0.52},{"r":60,"n":30,"k":4,"t":0.33,"b":0.57,"e":0.57},{"r":60,"n":30,"k":4,"t":0.4,"b":0.56,"e":0.56},{"r":60,"n":30,"k":4,"t":0.43,"b":0.46,"e":0.46},{"r":60,"n":30,"k":4,"t":0.51,"b":0.74,"e":0.74},{"r":60,"n":30,"k":4,"t":0.6,"b":0.68,"e":0.68},{"r":60,"n":30,"k":4,"t":0.8,"b":0.61,"e":0.61},{"r":60,"n":30,"k":4,"t":0.82,"b":0.44,"e":0.47},{"r":60,"n":30,"k":4,"t":1.0,"b":0.44,"e":0.47},{"r":60,"n":30,"k":4,"t":1.5,"b":0.46,"e":0.47},{"r":60,"n":30,"k":4,"t":1.7,"b":0.57,"e":0.55},{"r":60,"n":30,"k":4,"t":1.72,"b":0.48,"e":0.5},{"r":60,"n":30,"k":4,"t":2.06,"b":0.5,"e":0.51},
{"r":60,"n":50,"k":2,"t":0,"b":0.53,"e":0.53},{"r":60,"n":50,"k":2,"t":0.01,"b":0.34,"e":0.34},{"r":60,"n":50,"k":2,"t":0.05,"b":0.31,"e":0.31},{"r":60,"n":50,"k":2,"t":0.1,"b":0.09,"e":0.12},{"r":60,"n":50,"k":2,"t":0.12,"b":0.34,"e":0.34},{"r":60,"n":50,"k":2,"t":0.15,"b":0.38,"e":0.36},{"r":60,"n":50,"k":2,"t":0.2,"b":0.41,"e":0.4},{"r":60,"n":50,"k":2,"t":0.4,"b":0.44,"e":0.44},{"r":60,"n":50,"k":2,"t":0.55,"b":0.44,"e":0.44},{"r":60,"n":50,"k":2,"t":0.65,"b":0.34,"e":0.34},{"r":60,"n":50,"k":2,"t":0.75,"b":0.15,"e":0.17},{"r":60,"n":50,"k":2,"t":0.8,"b":0.18,"e":0.19},{"r":60,"n":50,"k":2,"t":0.85,"b":0.25,"e":0.25},{"r":60,"n":50,"k":2,"t":1.0,"b":0.25,"e":0.25},{"r":60,"n":50,"k":2,"t":1.15,"b":0.26,"e":0.26},{"r":60,"n":50,"k":2,"t":1.5,"b":0.23,"e":0.23},{"r":60,"n":50,"k":2,"t":2.06,"b":0.2,"e":0.2},
{"r":60,"n":50,"k":3,"t":0,"b":0.56,"e":0.56},{"r":60,"n":50,"k":3,"t":0.005,"b":0.0,"e":0.0},{"r":60,"n":50,"k":3,"t":0.01,"b":0.47,"e":0.47},{"r":60,"n":50,"k":3,"t":0.05,"b":0.54,"e":0.54},{"r":60,"n":50,"k":3,"t":0.1,"b":0.5,"e":0.5},{"r":60,"n":50,"k":3,"t":0.12,"b":0.6,"e":0.6},{"r":60,"n":50,"k":3,"t":0.15,"b":0.69,"e":0.69},{"r":60,"n":50,"k":3,"t":0.16,"b":0.52,"e":0.52},{"r":60,"n":50,"k":3,"t":0.2,"b":0.6,"e":0.6},{"r":60,"n":50,"k":3,"t":0.3,"b":0.64,"e":0.64},{"r":60,"n":50,"k":3,"t":0.6,"b":0.64,"e":0.64},{"r":60,"n":50,"k":3,"t":0.65,"b":0.59,"e":0.59},{"r":60,"n":50,"k":3,"t":0.75,"b":0.5,"e":0.5},{"r":60,"n":50,"k":3,"t":0.78,"b":0.47,"e":0.47},{"r":60,"n":50,"k":3,"t":0.82,"b":0.54,"e":0.54},{"r":60,"n":50,"k":3,"t":1.0,"b":0.55,"e":0.55},{"r":60,"n":50,"k":3,"t":1.15,"b":0.58,"e":0.58},{"r":60,"n":50,"k":3,"t":1.5,"b":0.55,"e":0.55},{"r":60,"n":50,"k":3,"t":2.06,"b":0.52,"e":0.52},
{"r":60,"n":50,"k":4,"t":0,"b":0.53,"e":0.53},{"r":60,"n":50,"k":4,"t":0.005,"b":0.03,"e":0.03},{"r":60,"n":50,"k":4,"t":0.01,"b":0.28,"e":0.28},{"r":60,"n":50,"k":4,"t":0.03,"b":0.38,"e":0.38},{"r":60,"n":50,"k":4,"t":0.06,"b":0.5,"e":0.5},{"r":60,"n":50,"k":4,"t":0.1,"b":0.47,"e":0.47},{"r":60,"n":50,"k":4,"t":0.12,"b":0.76,"e":0.76},{"r":60,"n":50,"k":4,"t":0.15,"b":0.89,"e":0.89},{"r":60,"n":50,"k":4,"t":0.16,"b":0.73,"e":0.73},{"r":60,"n":50,"k":4,"t":0.2,"b":0.78,"e":0.78},{"r":60,"n":50,"k":4,"t":0.25,"b":0.8,"e":0.8},{"r":60,"n":50,"k":4,"t":0.45,"b":0.82,"e":0.82},{"r":60,"n":50,"k":4,"t":0.6,"b":0.82,"e":0.82},{"r":60,"n":50,"k":4,"t":0.7,"b":0.76,"e":0.76},{"r":60,"n":50,"k":4,"t":0.77,"b":0.69,"e":0.69},{"r":60,"n":50,"k":4,"t":0.82,"b":0.76,"e":0.76},{"r":60,"n":50,"k":4,"t":1.0,"b":0.78,"e":0.78},{"r":60,"n":50,"k":4,"t":1.15,"b":0.79,"e":0.79},{"r":60,"n":50,"k":4,"t":1.5,"b":0.76,"e":0.76},{"r":60,"n":50,"k":4,"t":2.06,"b":0.73,"e":0.73},
{"r":60,"n":250,"k":2,"t":0,"b":0.47,"e":0.47},{"r":60,"n":250,"k":2,"t":0.03,"b":0.54,"e":0.54},{"r":60,"n":250,"k":2,"t":0.1,"b":0.57,"e":0.57},{"r":60,"n":250,"k":2,"t":0.3,"b":0.52,"e":0.52},{"r":60,"n":250,"k":2,"t":0.5,"b":0.5,"e":0.5},{"r":60,"n":250,"k":2,"t":0.64,"b":0.47,"e":0.47},{"r":60,"n":250,"k":2,"t":0.74,"b":0.44,"e":0.44},{"r":60,"n":250,"k":2,"t":0.84,"b":0.41,"e":0.41},{"r":60,"n":250,"k":2,"t":0.94,"b":0.39,"e":0.39},{"r":60,"n":250,"k":2,"t":0.98,"b":0.28,"e":0.28},{"r":60,"n":250,"k":2,"t":1.23,"b":0.27,"e":0.27},{"r":60,"n":250,"k":2,"t":1.4,"b":0.31,"e":0.31},{"r":60,"n":250,"k":2,"t":1.63,"b":0.24,"e":0.22},{"r":60,"n":250,"k":2,"t":1.75,"b":0.26,"e":0.25},{"r":60,"n":250,"k":2,"t":2.06,"b":0.37,"e":0.37},
{"r":60,"n":250,"k":3,"t":0,"b":0.6,"e":0.6},{"r":60,"n":250,"k":3,"t":0.01,"b":1.11,"e":1.11},{"r":60,"n":250,"k":3,"t":0.03,"b":0.98,"e":0.98},{"r":60,"n":250,"k":3,"t":0.1,"b":0.85,"e":0.85},{"r":60,"n":250,"k":3,"t":0.2,"b":0.82,"e":0.82},{"r":60,"n":250,"k":3,"t":0.3,"b":0.82,"e":0.82},{"r":60,"n":250,"k":3,"t":0.45,"b":0.85,"e":0.85},{"r":60,"n":250,"k":3,"t":0.55,"b":0.85,"e":0.85},{"r":60,"n":250,"k":3,"t":0.64,"b":0.76,"e":0.76},{"r":60,"n":250,"k":3,"t":0.84,"b":0.74,"e":0.74},{"r":60,"n":250,"k":3,"t":0.98,"b":0.69,"e":0.69},{"r":60,"n":250,"k":3,"t":1.23,"b":0.68,"e":0.68},{"r":60,"n":250,"k":3,"t":1.48,"b":0.69,"e":0.69},{"r":60,"n":250,"k":3,"t":1.7,"b":0.71,"e":0.71},{"r":60,"n":250,"k":3,"t":2.06,"b":0.68,"e":0.68},
{"r":60,"n":250,"k":4,"t":0,"b":0.3,"e":0.3},{"r":60,"n":250,"k":4,"t":0.01,"b":1.39,"e":1.39},{"r":60,"n":250,"k":4,"t":0.02,"b":1.24,"e":1.24},{"r":60,"n":250,"k":4,"t":0.05,"b":1.01,"e":1.01},{"r":60,"n":250,"k":4,"t":0.1,"b":0.89,"e":0.89},{"r":60,"n":250,"k":4,"t":0.2,"b":0.82,"e":0.82},{"r":60,"n":250,"k":4,"t":0.3,"b":0.82,"e":0.82},{"r":60,"n":250,"k":4,"t":0.45,"b":0.85,"e":0.85},{"r":60,"n":250,"k":4,"t":0.55,"b":0.85,"e":0.85},{"r":60,"n":250,"k":4,"t":0.64,"b":0.76,"e":0.76},{"r":60,"n":250,"k":4,"t":0.84,"b":0.74,"e":0.74},{"r":60,"n":250,"k":4,"t":0.98,"b":0.69,"e":0.69},{"r":60,"n":250,"k":4,"t":1.23,"b":0.68,"e":0.68},{"r":60,"n":250,"k":4,"t":1.48,"b":0.69,"e":0.69},{"r":60,"n":250,"k":4,"t":1.7,"b":0.71,"e":0.71},{"r":60,"n":250,"k":4,"t":2.06,"b":0.68,"e":0.68},
{"r":60,"n":500,"k":2,"t":0,"b":0.69,"e":0.69},{"r":60,"n":500,"k":2,"t":0.01,"b":0.4,"e":0.4},{"r":60,"n":500,"k":2,"t":0.05,"b":0.42,"e":0.42},{"r":60,"n":500,"k":2,"t":0.1,"b":0.44,"e":0.44},{"r":60,"n":500,"k":2,"t":0.15,"b":0.53,"e":0.53},{"r":60,"n":500,"k":2,"t":0.25,"b":0.57,"e":0.57},{"r":60,"n":500,"k":2,"t":0.4,"b":0.63,"e":0.63},{"r":60,"n":500,"k":2,"t":0.5,"b":0.68,"e":0.68},{"r":60,"n":500,"k":2,"t":0.6,"b":0.63,"e":0.63},{"r":60,"n":500,"k":2,"t":0.7,"b":0.6,"e":0.6},{"r":60,"n":500,"k":2,"t":1.0,"b":0.6,"e":0.6},{"r":60,"n":500,"k":2,"t":1.1,"b":0.57,"e":0.57},{"r":60,"n":500,"k":2,"t":1.2,"b":0.61,"e":0.61},{"r":60,"n":500,"k":2,"t":1.5,"b":0.65,"e":0.65},{"r":60,"n":500,"k":2,"t":2.06,"b":0.65,"e":0.65},
{"r":60,"n":500,"k":3,"t":0,"b":0.8,"e":0.8},{"r":60,"n":500,"k":3,"t":0.005,"b":1.12,"e":1.12},{"r":60,"n":500,"k":3,"t":0.03,"b":1.1,"e":1.1},{"r":60,"n":500,"k":3,"t":0.06,"b":0.99,"e":0.99},{"r":60,"n":500,"k":3,"t":0.1,"b":0.9,"e":0.9},{"r":60,"n":500,"k":3,"t":0.15,"b":0.85,"e":0.85},{"r":60,"n":500,"k":3,"t":0.2,"b":0.82,"e":0.82},{"r":60,"n":500,"k":3,"t":0.3,"b":0.8,"e":0.8},{"r":60,"n":500,"k":3,"t":0.5,"b":0.79,"e":0.79},{"r":60,"n":500,"k":3,"t":0.8,"b":0.79,"e":0.79},{"r":60,"n":500,"k":3,"t":1.0,"b":0.8,"e":0.8},{"r":60,"n":500,"k":3,"t":1.5,"b":0.82,"e":0.82},{"r":60,"n":500,"k":3,"t":2.06,"b":0.81,"e":0.81},
{"r":60,"n":500,"k":4,"t":0,"b":0.27,"e":0.27},{"r":60,"n":500,"k":4,"t":0.005,"b":1.38,"e":1.38},{"r":60,"n":500,"k":4,"t":0.02,"b":1.3,"e":1.3},{"r":60,"n":500,"k":4,"t":0.05,"b":1.08,"e":1.08},{"r":60,"n":500,"k":4,"t":0.1,"b":0.92,"e":0.92},{"r":60,"n":500,"k":4,"t":0.15,"b":0.87,"e":0.87},{"r":60,"n":500,"k":4,"t":0.2,"b":0.84,"e":0.84},{"r":60,"n":500,"k":4,"t":0.3,"b":0.83,"e":0.83},{"r":60,"n":500,"k":4,"t":0.5,"b":0.81,"e":0.81},{"r":60,"n":500,"k":4,"t":0.8,"b":0.81,"e":0.81},{"r":60,"n":500,"k":4,"t":1.0,"b":0.83,"e":0.83},{"r":60,"n":500,"k":4,"t":1.5,"b":0.84,"e":0.84},{"r":60,"n":500,"k":4,"t":2.06,"b":0.83,"e":0.83},
{"r":60,"n":1000,"k":2,"t":0,"b":0.6,"e":0.6},{"r":60,"n":1000,"k":2,"t":0.03,"b":0.5,"e":0.5},{"r":60,"n":1000,"k":2,"t":0.06,"b":0.52,"e":0.52},{"r":60,"n":1000,"k":2,"t":0.1,"b":0.46,"e":0.46},{"r":60,"n":1000,"k":2,"t":0.2,"b":0.5,"e":0.5},{"r":60,"n":1000,"k":2,"t":0.3,"b":0.55,"e":0.55},{"r":60,"n":1000,"k":2,"t":0.5,"b":0.59,"e":0.59},{"r":60,"n":1000,"k":2,"t":0.7,"b":0.61,"e":0.61},{"r":60,"n":1000,"k":2,"t":0.9,"b":0.66,"e":0.66},{"r":60,"n":1000,"k":2,"t":1.0,"b":0.69,"e":0.69},{"r":60,"n":1000,"k":2,"t":1.2,"b":0.73,"e":0.73},{"r":60,"n":1000,"k":2,"t":1.5,"b":0.76,"e":0.76},{"r":60,"n":1000,"k":2,"t":1.7,"b":0.75,"e":0.75},{"r":60,"n":1000,"k":2,"t":2.06,"b":0.71,"e":0.71},
{"r":60,"n":1000,"k":3,"t":0,"b":0.6,"e":0.6},{"r":60,"n":1000,"k":3,"t":0.03,"b":0.85,"e":0.85},{"r":60,"n":1000,"k":3,"t":0.06,"b":1.01,"e":1.01},{"r":60,"n":1000,"k":3,"t":0.1,"b":1.12,"e":1.12},{"r":60,"n":1000,"k":3,"t":0.15,"b":1.16,"e":1.16},{"r":60,"n":1000,"k":3,"t":0.3,"b":1.21,"e":1.21},{"r":60,"n":1000,"k":3,"t":0.5,"b":1.18,"e":1.18},{"r":60,"n":1000,"k":3,"t":0.7,"b":1.11,"e":1.11},{"r":60,"n":1000,"k":3,"t":0.8,"b":1.06,"e":1.06},{"r":60,"n":1000,"k":3,"t":1.0,"b":0.94,"e":0.94},{"r":60,"n":1000,"k":3,"t":1.2,"b":0.92,"e":0.92},{"r":60,"n":1000,"k":3,"t":1.4,"b":0.89,"e":0.89},{"r":60,"n":1000,"k":3,"t":1.5,"b":0.84,"e":0.84},{"r":60,"n":1000,"k":3,"t":1.7,"b":0.79,"e":0.79},{"r":60,"n":1000,"k":3,"t":2.06,"b":0.76,"e":0.76},
{"r":60,"n":1000,"k":4,"t":0,"b":0.34,"e":0.34},{"r":60,"n":1000,"k":4,"t":0.02,"b":1.17,"e":1.17},{"r":60,"n":1000,"k":4,"t":0.05,"b":1.24,"e":1.24},{"r":60,"n":1000,"k":4,"t":0.1,"b":1.33,"e":1.33},{"r":60,"n":1000,"k":4,"t":0.12,"b":1.35,"e":1.35},{"r":60,"n":1000,"k":4,"t":0.2,"b":1.3,"e":1.3},{"r":60,"n":1000,"k":4,"t":0.3,"b":1.27,"e":1.27},{"r":60,"n":1000,"k":4,"t":0.4,"b":1.24,"e":1.24},{"r":60,"n":1000,"k":4,"t":0.5,"b":1.21,"e":1.21},{"r":60,"n":1000,"k":4,"t":0.6,"b":1.16,"e":1.16},{"r":60,"n":1000,"k":4,"t":0.8,"b":1.08,"e":1.08},{"r":60,"n":1000,"k":4,"t":0.9,"b":1.01,"e":1.01},{"r":60,"n":1000,"k":4,"t":1.0,"b":0.99,"e":0.99},{"r":60,"n":1000,"k":4,"t":1.2,"b":0.95,"e":0.95},{"r":60,"n":1000,"k":4,"t":1.4,"b":0.9,"e":0.9},{"r":60,"n":1000,"k":4,"t":1.5,"b":0.84,"e":0.84},{"r":60,"n":1000,"k":4,"t":1.7,"b":0.81,"e":0.81},{"r":60,"n":1000,"k":4,"t":2.06,"b":0.78,"e":0.78}
]},
"hconcat": [
  {
    "width": 24, "height": 447,
    "view": {"stroke": null},
    "data": {"values": [{"x": 0.29, "y": 0.069, "y2": 0.322}, {"x": 0.29, "y": 0.655, "y2": 0.908}]},
    "layer": [
      {"mark": {"type": "rule", "color": "#777", "strokeWidth": 2.5},
       "encoding": {
         "x": {"field": "x", "type": "quantitative", "scale": {"domain": [0, 1]}, "axis": {"orient": "top", "domain": true, "domainColor": "#111", "domainWidth": 1.5, "ticks": false, "labels": false, "grid": false, "title": null, "minExtent": 0, "maxExtent": 0}},
         "y": {"field": "y", "type": "quantitative", "scale": {"domain": [0, 1], "reverse": true}, "axis": {"orient": "left", "domain": true, "domainColor": "#111", "domainWidth": 1.5, "ticks": false, "labels": false, "grid": false, "title": null, "minExtent": 0, "maxExtent": 0}},
         "y2": {"field": "y2"}}},
      {"data": {"values": [{"x": 0.833, "y": 0.195, "label": "CR-20%"}, {"x": 0.833, "y": 0.49, "label": "CR-40%"}, {"x": 0.833, "y": 0.783, "label": "CR-60%"}]},
       "mark": {"type": "text", "angle": 270, "font": "Lato", "fontSize": 11, "color": "#222", "align": "center", "baseline": "middle"},
       "encoding": {"x": {"field": "x", "type": "quantitative"}, "y": {"field": "y", "type": "quantitative"}, "text": {"field": "label"}}},
      {"data": {"values": [{"x": 0.29, "y": 0.494, "label": "C e n s o r i n g\u00a0\u00a0\u00a0R a t e"}]},
       "mark": {"type": "text", "angle": 270, "font": "Lato", "fontSize": 10.5, "fontWeight": "bold", "color": "#111", "align": "center", "baseline": "middle"},
       "encoding": {"x": {"field": "x", "type": "quantitative"}, "y": {"field": "y", "type": "quantitative"}, "text": {"field": "label"}}}
    ]
  },
  {
    "spacing": 0,
    "resolve": {"scale": {"x": "independent", "y": "independent"}},
    "vconcat": [
      {
        "width": 783, "height": 17,
        "view": {"stroke": null},
        "data": {"values": [{"x": 0.021, "x2": 0.405, "y": 0.35}, {"x": 0.6275, "x2": 1, "y": 0.35}]},
        "layer": [
          {"mark": {"type": "rule", "color": "#444", "strokeWidth": 1.5},
           "encoding": {
             "x": {"field": "x", "type": "quantitative", "scale": {"domain": [0, 1], "range": [-17, 783]}, "axis": {"orient": "top", "domain": true, "domainColor": "#111", "domainWidth": 1.5, "ticks": false, "labels": false, "grid": false, "title": null, "minExtent": 0, "maxExtent": 0}},
             "x2": {"field": "x2"},
             "y": {"field": "y", "type": "quantitative", "scale": {"domain": [0, 1]}, "axis": null}}},
          {"data": {"values": [{"x": 0.5325, "y": 0.35, "label": "S a m p l e\u00a0\u00a0\u00a0S i z e s"}]},
           "mark": {"type": "text", "font": "Lato", "fontSize": 10.5, "fontWeight": "bold", "color": "#111", "align": "center", "baseline": "middle"},
           "encoding": {"x": {"field": "x", "type": "quantitative"}, "y": {"field": "y", "type": "quantitative"}, "text": {"field": "label"}}}
        ]
      },
      {
        "facet": {
          "row": {"field": "r", "type": "ordinal", "header": {"labels": false, "title": null}},
          "column": {"field": "n", "type": "ordinal", "sort": [30, 50, 250, 500, 1000], "header": {"title": null, "labelExpr": "'n=' + datum.value", "labelFont": "Lato", "labelFontSize": 11.5, "labelColor": "#222", "labelPadding": 1}}
        },
        "spacing": {"row": 0, "column": 5},
        "resolve": {"axis": {"x": "independent", "y": "independent"}},
        "spec": {
          "width": 138, "height": 114,
          "encoding": {
            "x": {"field": "t", "type": "quantitative", "scale": {"domain": [-0.08, 2.08], "nice": false, "zero": false},
                  "axis": {"values": [0, 0.5, 1, 1.5, 2], "format": ".1f", "title": "T i m e", "titleFontSize": 6, "titleFontWeight": "bold", "titleColor": "#111", "titlePadding": 1, "labelFontSize": 4.5, "labelColor": "#777", "labelPadding": 1, "tickSize": 2, "tickColor": "#999", "domain": false, "grid": false, "labelFlush": false, "labelOverlap": false}}
          },
          "layer": [
            {"mark": {"type": "line", "strokeWidth": 1.3, "strokeDash": [1.3, 1.3], "opacity": 0.9},
             "encoding": {
               "y": {"field": "e", "type": "quantitative", "scale": {"domain": [-0.08, 2.08], "nice": false, "zero": false},
                     "axis": {"values": [0, 0.5, 1, 1.5, 2], "format": ".1f", "title": "NRI", "titleFontSize": 5.5, "titleFontWeight": "bold", "titleColor": "#111", "titlePadding": 1, "labelAngle": 270, "labelAlign": "center", "labelBaseline": "bottom", "labelFontSize": 4.5, "labelColor": "#777", "labelPadding": 1, "tickSize": 2, "tickColor": "#999", "domain": false, "grid": false, "labelFlush": false, "labelOverlap": false}},
               "stroke": {"field": "k", "type": "nominal", "scale": {"domain": [2, 3, 4], "range": ["#f4805e", "#5db53a", "#1c1c1c"]},
                          "legend": {"title": null, "orient": "none", "legendX": 493, "legendY": 427, "symbolDash": [2, 2.4], "symbolStrokeWidth": 2, "labelExpr": "datum.label + ' categories'"}}
             }},
            {"mark": {"type": "line", "strokeWidth": 1.2},
             "encoding": {
               "y": {"field": "b", "type": "quantitative"},
               "color": {"field": "k", "type": "nominal", "scale": {"range": ["#f4805e", "#5db53a", "#1c1c1c"]},
                         "legend": {"title": null, "orient": "none", "legendX": 104, "legendY": 427, "symbolStrokeWidth": 1.5, "labelExpr": "datum.label + ' categories'"}}
             }}
          ]
        }
      },
      {
        "width": 783, "height": 22,
        "view": {"stroke": null},
        "data": {"values": [{"x": 0.077, "y": 0.2, "label": "Bootstrap NRI"}, {"x": 0.573, "y": 0.2, "label": "True NRI"}]},
        "mark": {"type": "text", "font": "Lato", "fontSize": 10, "fontWeight": "bold", "color": "#111", "align": "right", "baseline": "middle"},
        "encoding": {
          "x": {"field": "x", "type": "quantitative", "scale": {"domain": [0, 1]}, "axis": null},
          "y": {"field": "y", "type": "quantitative", "scale": {"domain": [0, 1]}, "axis": null},
          "text": {"field": "label"}
        }
      }
    ]
  }
]
}
